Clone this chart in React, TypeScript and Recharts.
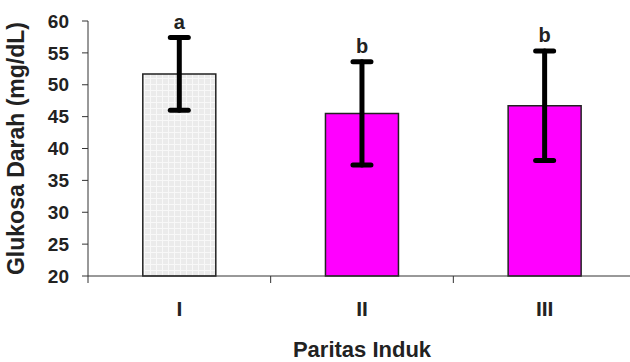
import { ComposedChart, Bar, Line, XAxis, YAxis, ErrorBar, Cell, LabelList } from 'recharts';

const groups = ['I', 'II', 'III'];
const means = [51.7, 45.5, 46.7];
const errors = [5.7, 8.1, 8.6];
const letters = ['a', 'b', 'b'];
const yTicks = [20, 25, 30, 35, 40, 45, 50, 55, 60];

const data = groups.map((g, i) => ({
  group: g,
  mean: means[i],
  err: errors[i],
  top: means[i] + errors[i],
  letter: letters[i],
}));

const fills = ['url(#gridFill)', '#ff00ff', '#ff00ff'];
const font = '"Liberation Sans", Arial, sans-serif';
const CHART_W = 636;
const LEFT = 88;
const band = (CHART_W - LEFT) / groups.length;

const GroupTick = ({ x, y, payload }) => (
  <g>
    <line x1={x - band / 2} y1={y} x2={x - band / 2} y2={y + 7} stroke="#333" />
    <text x={x} y={y + 40} textAnchor="middle" fontFamily={font} fontWeight="bold" fontSize={21} fill="#222">
      {payload.value}
    </text>
  </g>
);

const App = () => {
  return (
    <div style={{ position: 'absolute', left: 0, top: 0, width: 630, height: 362, overflow: 'hidden', background: '#fff' }}>
      <ComposedChart width={CHART_W} height={362} data={data} margin={{ top: 21, right: 0, bottom: 0, left: 0 }} barCategoryGap="30%">
        <defs>
          <pattern id="gridFill" width="6" height="6" patternUnits="userSpaceOnUse">
            <rect width="6" height="6" fill="#ebebeb" />
            <path d="M0 0.5 H6 M0.5 0 V6" stroke="#f8f8f8" strokeWidth="1" />
          </pattern>
        </defs>
        <XAxis
          dataKey="group"
          height={86}
          tickSize={0}
          tickMargin={0}
          tick={GroupTick}
          axisLine={{ stroke: '#333' }}
          label={{ value: 'Paritas Induk', position: 'insideBottom', offset: 5, fontFamily: font, fontWeight: 'bold', fontSize: 22, fill: '#222' }}
        />
        <YAxis
          width={LEFT}
          domain={[20, 60]}
          ticks={yTicks}
          interval={0}
          tickSize={6}
          tickMargin={13}
          axisLine={{ stroke: '#333' }}
          tickLine={{ stroke: '#333' }}
          tick={{ fontFamily: font, fontWeight: 'bold', fontSize: 19, fill: '#222' }}
          label={{ value: 'Glukosa Darah (mg/dL)', angle: -90, position: 'insideLeft', offset: 22, dx: -6, style: { textAnchor: 'middle', fontFamily: font, fontWeight: 'bold', fontSize: 23, fill: '#222' } }}
        />
        <Bar dataKey="mean" stroke="#222" strokeWidth={1.5} isAnimationActive={false}>
          {data.map((d, i) => (
            <Cell key={d.group} fill={fills[i]} />
          ))}
          <ErrorBar dataKey="err" width={9} strokeWidth={5} stroke="#000" direction="y" strokeLinecap="round" />
        </Bar>
        <Line dataKey="top" stroke="none" dot={false} activeDot={false} isAnimationActive={false}>
          <LabelList dataKey="letter" position="top" offset={9} fontFamily={font} fontWeight="bold" fontSize={20} fill="#222" />
        </Line>
      </ComposedChart>
    </div>
  );
};

export default App;
